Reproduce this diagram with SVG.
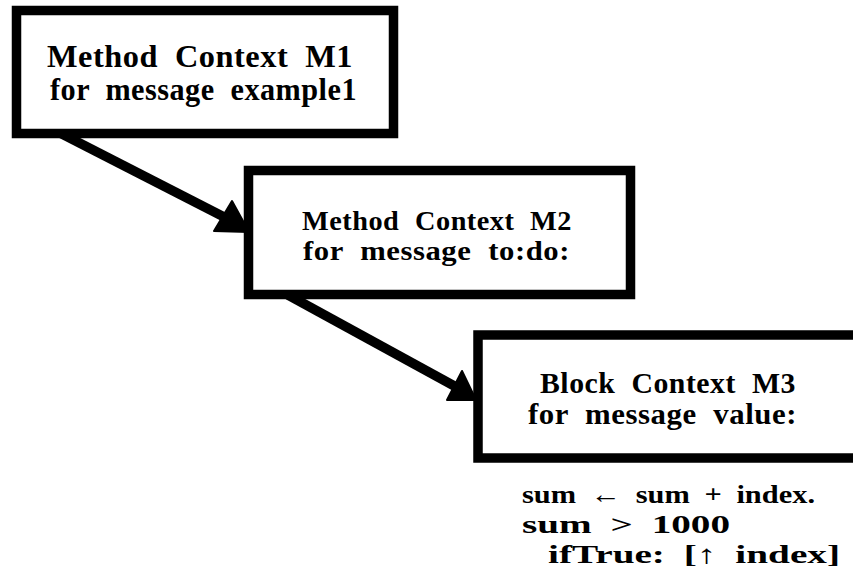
<svg xmlns="http://www.w3.org/2000/svg" width="853" height="587" viewBox="0 0 853 587">
<style>
.box{fill:#fff;stroke:#000;stroke-width:9.5}
.lbl{font-family:"Liberation Serif","Times New Roman",serif;font-weight:bold;fill:#000;text-anchor:middle;word-spacing:8px;letter-spacing:0.5px}
.code{font-family:"Liberation Serif","Times New Roman",serif;font-weight:bold;fill:#000;font-size:26px;word-spacing:6px}
.conn{stroke:#000;stroke-width:9.5;fill:none;stroke-linecap:butt}
.head{fill:#000;stroke:#000;stroke-width:2;stroke-linejoin:round}
</style>
<rect width="853" height="587" fill="#fff"/>
<g id="connectors">
<line class="conn" x1="60" y1="133" x2="228" y2="219"/>
<polygon class="head" points="214,231 232,201 249,232"/>
<line class="conn" x1="288" y1="295" x2="458" y2="388"/>
<polygon class="head" points="447,400 462,371 476,400"/>
</g>
<g id="m1">
<rect class="box" x="16.5" y="10.5" width="377" height="123"/>
<text class="lbl" x="200" y="67" font-size="31" textLength="306" lengthAdjust="spacingAndGlyphs">Method Context M1</text>
<text class="lbl" x="203.5" y="100" font-size="31" textLength="307" lengthAdjust="spacingAndGlyphs">for message example1</text>
</g>
<g id="m2">
<rect class="box" x="248.5" y="170.5" width="382" height="124"/>
<text class="lbl" x="437" y="230" font-size="28" textLength="270" lengthAdjust="spacingAndGlyphs">Method Context M2</text>
<text class="lbl" x="436.5" y="260" font-size="28" textLength="267" lengthAdjust="spacingAndGlyphs">for message to:do:</text>
</g>
<g id="m3">
<rect class="box" x="478" y="335" width="400" height="123"/>
<text class="lbl" x="668" y="393" font-size="29" textLength="256" lengthAdjust="spacingAndGlyphs">Block Context M3</text>
<text class="lbl" x="662.5" y="424" font-size="29" textLength="269" lengthAdjust="spacingAndGlyphs">for message value:</text>
</g>
<g id="code">
<text class="code" x="522" y="503" textLength="293" lengthAdjust="spacingAndGlyphs">sum ← sum + index.</text>
<text class="code" x="522" y="533" textLength="208" lengthAdjust="spacingAndGlyphs">sum &gt; 1000</text>
<text class="code" x="548" y="563" textLength="292" lengthAdjust="spacingAndGlyphs">ifTrue: [↑ index]</text>
</g>
</svg>
